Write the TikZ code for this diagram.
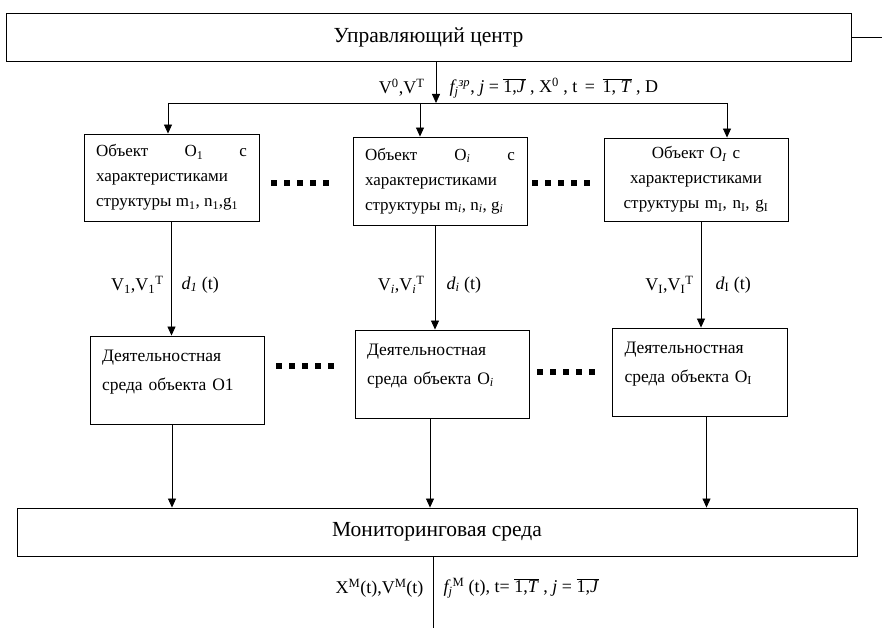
\documentclass[tikz,border=0pt]{standalone}
\usepackage{fontspec}
\setmainfont{Liberation Serif}
\usetikzlibrary{arrows.meta,positioning}
\newcommand{\ovl}[1]{$\overline{\mbox{#1}}$}
\newcommand{\lowstrut}{\rule[-20pt]{0pt}{0pt}}

\begin{document}
\begin{tikzpicture}[
x=1pt, y=-1pt,
every node/.style={font=\fontsize{18}{23}\selectfont},
wide/.style={
draw,
line width=0.9pt,
minimum height=48pt,
font=\fontsize{21.5}{26}\selectfont,
align=center
},
objbox/.style={
draw,
line width=0.9pt,
inner xsep=12pt,
font=\fontsize{17}{25}\selectfont,
align=justify
},
envbox/.style={
draw,
line width=0.9pt,
inner xsep=12pt,
text width=150pt,
minimum height=88pt,
font=\fontsize{17.5}{29}\selectfont,
align=left
},
arrow/.style={-{Triangle[length=9pt,width=8pt]}, line width=0.8pt},
dots/.style={line width=6pt, dash pattern=on 6pt off 7pt}
]
\useasboundingbox (0,0) rectangle (882,628);

% Main layers
\node[wide, minimum width=845pt] (centre) at (428.5,37) {Управляющий центр};

\node[objbox, text width=151pt, minimum height=87pt] (obj1) at (171.5,177.5) {
Объект\hfill O\textsubscript{1}\hfill с\\
характеристиками\\
структуры m\textsubscript{1}, n\textsubscript{1},g\textsubscript{1}
};

\node[objbox, text width=150pt, minimum height=88pt] (obji) at (440,181) {
Объект\hfill O\textsubscript{\textit{i}}\hfill с\\
характеристиками\\
структуры m\textsubscript{\textit{i}}, n\textsubscript{\textit{i}}, g\textsubscript{\textit{i}}
};

\node[objbox, text width=160pt, minimum height=83pt, align=center] (objI) at (696,179.5) {
Объект O\textsubscript{\textit{I}} с\\
характеристиками\\
структуры m\textsubscript{I}, n\textsubscript{I}, g\textsubscript{I}
};

\node[envbox, minimum width=174pt] (env1) at (177,380) {
Деятельностная\\
среда объекта O1\lowstrut
};

\node[envbox, minimum width=174pt] (envi) at (442,374) {
Деятельностная\\
среда объекта O\textsubscript{\textit{i}}\lowstrut
};

\node[envbox, minimum width=175pt] (envI) at (699.5,372) {
Деятельностная\\
среда объекта O\textsubscript{I}\lowstrut
};

\node[wide, minimum width=840pt] (monitor) at (437,532) {Мониторинговая среда};

% Bus
\coordinate (busC) at (436,103);
\coordinate (bus1) at (168,103);
\coordinate (busi) at (420,103);
\coordinate (busI) at (727,103);
\coordinate (outR) at (882,37);
\coordinate (outB) at (433,628);

% Arrows
\draw[line width=0.8pt] (centre.east) -- (outR);
\draw[arrow] (centre.south -| busC) -- (busC);
\draw[line width=0.8pt] (bus1) -- (busI);
\draw[arrow] (bus1) -- (bus1 |- obj1.north);
\draw[arrow] (busi) -- (busi |- obji.north);
\draw[arrow] (busI) -- (busI |- objI.north);

\draw[arrow] (obj1.south) -- (obj1.south |- env1.north);
\draw[arrow] ([xshift=-5pt]obji.south) -- ([xshift=-5pt]obji.south |- envi.north);
\draw[arrow] ([xshift=5pt]objI.south) -- ([xshift=5pt]objI.south |- envI.north);

\draw[arrow] ([xshift=-5pt]env1.south) -- ([xshift=-5pt]env1.south |- monitor.north);
\draw[arrow] ([xshift=-12pt]envi.south) -- ([xshift=-12pt]envi.south |- monitor.north);
\draw[arrow] ([xshift=7pt]envI.south) -- ([xshift=7pt]envI.south |- monitor.north);

\draw[line width=0.8pt] (monitor.south -| outB) -- (outB);

% Labels
\node[anchor=east] at (428,88) {V\textsuperscript{0},V\textsuperscript{T}};
\node[anchor=west] at (446,88) {\textit{f\textsubscript{j}\textsuperscript{зр}}, \textit{j} = \ovl{1,\textit{J}} , X\textsuperscript{0} , t \,=\, \ovl{1, \textit{T}} , D};

\node[anchor=east] at (167,285) {V\textsubscript{1},V\textsubscript{1}\textsuperscript{T}};
\node[anchor=west] at (178,285) {\textit{d\textsubscript{1}} (t)};
\node[anchor=east] at (428,285) {V\textsubscript{\textit{i}},V\textsubscript{\textit{i}}\textsuperscript{T}};
\node[anchor=west] at (443,285) {\textit{d\textsubscript{i}} (t)};
\node[anchor=east] at (697,285) {V\textsubscript{I},V\textsubscript{I}\textsuperscript{T}};
\node[anchor=west] at (712,285) {\textit{d}\textsubscript{I} (t)};

\node[anchor=east] at (427,588) {X\textsuperscript{M}(t),V\textsuperscript{M}(t)};
\node[anchor=west] at (440,588) {\textit{f\textsubscript{j}}\textsuperscript{M} (t), t= \ovl{1,\textit{T}} , \textit{j} = \ovl{1,\textit{J}}};

% Dots
\draw[dots] (271,183) -- (336,183);
\draw[dots] (532,183) -- (597,183);
\draw[dots] (276,366) -- (341,366);
\draw[dots] (537,372) -- (602,372);
\end{tikzpicture}
\end{document}
